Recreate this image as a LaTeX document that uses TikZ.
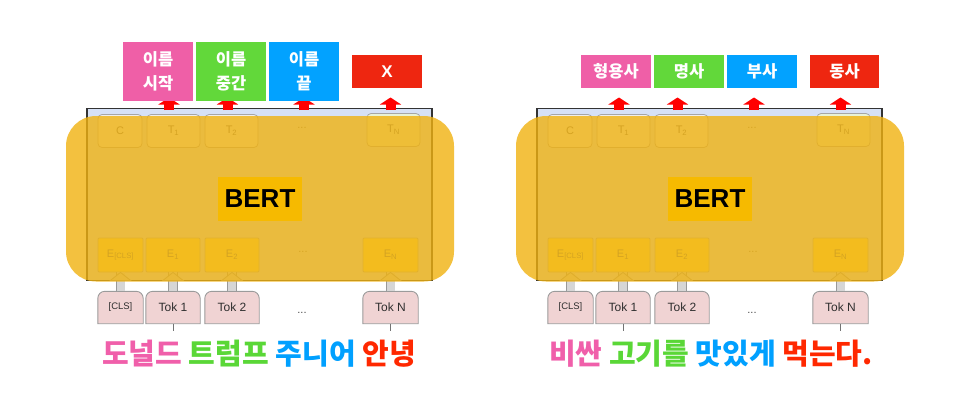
\documentclass[tikz,border=0pt]{standalone}
\usepackage{fontspec}
\setmainfont{Liberation Sans}
\newfontfamily\kr{Noto Sans CJK KR}
\usetikzlibrary{arrows.meta}
\pgfdeclarelayer{bg}
\pgfsetlayers{bg,main}
\definecolor{lblue}{RGB}{214,225,246}
\definecolor{ovl}{RGB}{240,178,16}
\definecolor{bertc}{RGB}{246,186,0}
\definecolor{tfill}{RGB}{238,238,238}
\definecolor{tnfill}{RGB}{232,242,215}
\definecolor{efill}{RGB}{255,232,90}
\definecolor{pinkc}{RGB}{239,95,167}
\definecolor{greenc}{RGB}{98,216,58}
\definecolor{bluec}{RGB}{2,162,255}
\definecolor{redc}{RGB}{238,38,16}
\definecolor{spink}{RGB}{240,95,170}
\definecolor{sgreen}{RGB}{90,215,55}
\definecolor{sblue}{RGB}{0,160,255}
\definecolor{sred}{RGB}{255,40,0}
\definecolor{tokfill}{RGB}{240,211,211}
\definecolor{tokline}{RGB}{155,155,155}
\definecolor{arrred}{RGB}{255,0,0}
\newcommand\tokframe[1]{%
  \begin{pgfonlayer}{bg}
    \draw[tokline, fill=tokfill, line width=0.9pt] (#1.south west)
      [rounded corners=7pt] -- (#1.north west) -- (#1.north east) [sharp corners] -- (#1.south east) -- cycle;
  \end{pgfonlayer}}
\newcommand\grayarrow[2]{%
  \draw[garr] (#1.north) -- (#2.south);
  \filldraw[fill=black!16, draw=black!40, line width=0.8pt] (#2.south) ++(-10,8) -- ++(10,-8) -- ++(10,8) -- cycle;}
\newcommand\bertcore{%
  \node[bbox] (box) at (259.5,194.5) {};
  \node[tbox, minimum width=44pt] (c) at (120,131) {C};
  \node[tbox, minimum width=53pt] (t1) at (173.5,131) {T\textsubscript{1}};
  \node[tbox, minimum width=53pt] (t2) at (231.5,131) {T\textsubscript{2}};
  \node[faint] (tdots) at (302,128) {...};
  \node[tbox, fill=tnfill, minimum width=53pt] (tn) at (393.5,130) {T\textsubscript{N}};
  \node[ebox, minimum width=45pt] (ecls) at (120.5,255) {E\textsubscript{[CLS]}};
  \node[ebox, minimum width=54pt] (e1) at (173,255) {E\textsubscript{1}};
  \node[ebox, minimum width=54pt] (e2) at (232,255) {E\textsubscript{2}};
  \node[faint] (edots) at (303,252) {...};
  \node[ebox, minimum width=55pt] (en) at (390.5,255) {E\textsubscript{N}};
  \node[tok, minimum width=45pt, font=\fontsize{9.5}{10}\selectfont] (kcls) at (120.5,307.5) {[CLS]};
  \node[tok, minimum width=54pt] (k1) at (173,307.5) {Tok 1};
  \node[tok, minimum width=54pt] (k2) at (232,307.5) {Tok 2};
  \node[dots] (kdots) at (302,313) {...};
  \node[tok, minimum width=55pt] (kn) at (390.5,307.5) {Tok N};
  \tokframe{kcls}\tokframe{k1}\tokframe{k2}\tokframe{kn}
  \grayarrow{kcls}{ecls}
  \grayarrow{k1}{e1}
  \grayarrow{k2}{e2}
  \grayarrow{kn}{en}
  \fill[ovl, fill opacity=0.8, rounded corners=30pt] (66,116) rectangle (454,281.5);
  \node[bertlbl] (bert) at (260,199) {BERT};
  \coordinate (t1o) at (k1.south); \coordinate (t1e) at (173,331);
  \coordinate (tno) at (kn.south); \coordinate (tne) at (390.5,331);
  \draw[tick] (t1o) -- (t1e);
  \draw[tick] (tno) -- (tne);
  \coordinate (r1a) at (169,110); \coordinate (r1b) at (169,97.5);
  \coordinate (r2a) at (227.5,110); \coordinate (r2b) at (227.5,97.5);
  \coordinate (r3a) at (304,110); \coordinate (r3b) at (304,97.5);
  \coordinate (r4a) at (390.5,110); \coordinate (r4b) at (390.5,97.5);
  \draw[redarr] (r1a) -- (r1b);
  \draw[redarr] (r2a) -- (r2b);
  \draw[redarr] (r3a) -- (r3b);
  \draw[redarr] (r4a) -- (r4b);
}
\begin{document}
\begin{tikzpicture}[x=1pt,y=-1pt,
  bbox/.style={draw=black!80, fill=lblue, line width=1.3pt, minimum width=345pt, minimum height=172pt, inner sep=0pt},
  ibox/.style={draw=black!35, line width=0.8pt, inner sep=0pt, text=black!60, font=\fontsize{11}{11}\selectfont},
  tbox/.style={ibox, fill=tfill, rounded corners=4pt, minimum height=33pt},
  ebox/.style={ibox, fill=efill, rounded corners=1pt, minimum height=34pt},
  faint/.style={inner sep=0pt, text=black!55, font=\fontsize{11}{11}\selectfont},
  dots/.style={inner sep=0pt, text=black!70, font=\fontsize{11}{11}\selectfont},
  tok/.style={minimum height=32pt, inner sep=0pt, text=black!82, font=\fontsize{12}{12}\selectfont},
  garr/.style={draw=black!40, double=black!16, double distance=8pt, line width=0.8pt},
  tick/.style={draw=black!55, line width=0.8pt},
  bertlbl/.style={fill=bertc, minimum width=84pt, minimum height=44pt, inner sep=0pt, font=\bfseries\fontsize{26}{26}\selectfont},
  redarr/.style={draw=arrred, line width=10pt, -{Triangle[width=21pt 0 0,length=7pt 0 0]}},
  lbl/.style={inner sep=0pt, text=white, font=\kr\bfseries\fontsize{16.5}{24}\selectfont, align=center},
  tall/.style={lbl, minimum width=70pt, minimum height=59pt},
  short/.style={lbl, minimum width=70pt, minimum height=33pt},
  sent/.style={inner sep=0pt, font=\kr\bfseries\fontsize{29}{29}\selectfont}
]
\begin{pgfonlayer}{bg}
  \fill[white] (0,0) rectangle (955,415);
\end{pgfonlayer}
\useasboundingbox (0,0) rectangle (955,415);

\begin{scope}[name prefix=L-]
  \bertcore
\end{scope}
\begin{scope}[shift={(450,0)}, name prefix=R-]
  \bertcore
\end{scope}

% left labels
\node[tall, fill=pinkc] (la) at (158,71.5) {이름\\시작};
\node[tall, fill=greenc] (lb) at (231,71.5) {이름\\중간};
\node[tall, fill=bluec] (lc) at (304,71.5) {이름\\끝};
\node[short, fill=redc, font=\bfseries\fontsize{17}{17}\selectfont] (ld) at (387,71.5) {X};
% right labels
\node[short, fill=pinkc] (ra) at (616,71.5) {형용사};
\node[short, fill=greenc] (rb) at (689,71.5) {명사};
\node[short, fill=bluec] (rc) at (762,71.5) {부사};
\node[short, fill=redc, minimum width=69pt] (rd) at (844.5,71.5) {동사};

% sentences
\node[sent] (ls) at (259,354) {\textcolor{spink}{도널드} \textcolor{sgreen}{트럼프} \textcolor{sblue}{주니어} \textcolor{sred}{안녕}};
\node[sent] (rs) at (711,354) {\textcolor{spink}{비싼} \textcolor{sgreen}{고기를} \textcolor{sblue}{맛있게} \textcolor{sred}{먹는다.}};
\end{tikzpicture}
\end{document}
